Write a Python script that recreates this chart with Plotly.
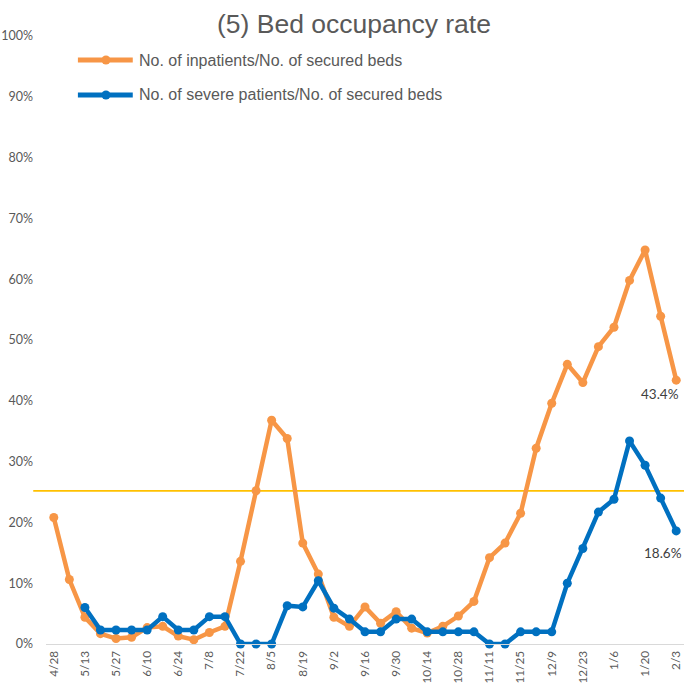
import plotly.graph_objects as go

# Weekly reporting dates
dates = [
    "4/28", "5/5", "5/13", "5/20", "5/27", "6/3", "6/10", "6/17", "6/24", "7/1",
    "7/8", "7/15", "7/22", "7/29", "8/5", "8/12", "8/19", "8/26", "9/2", "9/9",
    "9/16", "9/23", "9/30", "10/7", "10/14", "10/21", "10/28", "11/4", "11/11", "11/18",
    "11/25", "12/2", "12/9", "12/16", "12/23", "12/30", "1/6", "1/13", "1/20", "1/27",
    "2/3",
]

# Occupancy rates (%)
inpatients = [
    20.8, 10.6, 4.4, 1.7, 0.9, 1.1, 2.7, 2.9, 1.3, 0.7,
    1.9, 2.9, 13.6, 25.2, 36.8, 33.8, 16.6, 11.5, 4.4, 2.9,
    6.1, 3.4, 5.3, 2.6, 1.8, 2.9, 4.6, 7.0, 14.2, 16.6,
    21.5, 32.2, 39.6, 46.0, 43.0, 48.9, 52.1, 59.8, 64.8, 53.9,
    43.4,
]
severe = [
    None, None, 6.0, 2.3, 2.3, 2.3, 2.3, 4.5, 2.3, 2.3,
    4.5, 4.5, 0.0, 0.0, 0.0, 6.3, 6.1, 10.4, 5.9, 4.1,
    2.0, 2.0, 4.1, 4.1, 2.0, 2.0, 2.0, 2.0, 0.0, 0.0,
    2.0, 2.0, 2.0, 10.0, 15.7, 21.7, 23.8, 33.4, 29.4, 24.0,
    18.6,
]

series_names = [
    "No. of inpatients/No. of secured beds",
    "No. of severe patients/No. of secured beds",
]
threshold = 25.2
yticks = [0, 10, 20, 30, 40, 50, 60, 70, 80, 90, 100]

ORANGE = "#F79646"
BLUE = "#0070C0"
GOLD = "#FFC000"
TEXT = "#595959"

to_frac = lambda vals: [None if v is None else v / 100 for v in vals]

fig = go.Figure()
for vals, color, name in [(inpatients, ORANGE, series_names[0]), (severe, BLUE, series_names[1])]:
    fig.add_trace(go.Scatter(
        x=dates, y=to_frac(vals), mode="lines+markers", name=name,
        line=dict(color=color, width=4.5),
        marker=dict(color=color, size=9),
        showlegend=False, cliponaxis=False,
    ))

# Reference level line
fig.add_shape(type="line", xref="paper", yref="y",
              x0=-0.02, x1=1.0, y0=threshold / 100, y1=threshold / 100,
              line=dict(color=GOLD, width=1.8), layer="below")

# Latest-value labels
for vals, xshift, yshift in [(inpatients, -16, -14), (severe, -13, -22)]:
    fig.add_annotation(x=dates[-1], y=vals[-1] / 100, text=f"{vals[-1]:.1f}%",
                       showarrow=False, xanchor="center", yanchor="middle",
                       xshift=xshift, yshift=yshift,
                       font=dict(family="Lato, Liberation Sans", size=13.5, color="#404040"))

# Legend drawn as line + dot + text
legend_rows = [(0.9605, ORANGE, series_names[0]), (0.903, BLUE, series_names[1])]
for ypos, color, name in legend_rows:
    fig.add_shape(type="line", xref="paper", yref="paper",
                  x0=0.050, x1=0.136, y0=ypos, y1=ypos,
                  line=dict(color=color, width=5))
    fig.add_shape(type="circle", xref="paper", yref="paper",
                  xsizemode="pixel", ysizemode="pixel",
                  xanchor=0.094, yanchor=ypos,
                  x0=-4.5, x1=4.5, y0=-4.5, y1=4.5,
                  fillcolor=color, line=dict(color=color, width=0))
    fig.add_annotation(xref="paper", yref="paper", x=0.143, y=ypos, text=name,
                       showarrow=False, xanchor="left", yanchor="middle",
                       font=dict(family="Liberation Sans", size=16, color=TEXT))

fig.update_layout(
    width=688, height=684,
    margin=dict(l=46, r=4, t=36, b=40, autoexpand=False),
    paper_bgcolor="white", plot_bgcolor="white",
    title=dict(text="(5) Bed occupancy rate", x=0.5145, xref="container", xanchor="center",
               y=1 - 24 / 684, yref="container", yanchor="middle",
               font=dict(family="Liberation Sans", size=26.5, color=TEXT)),
    xaxis=dict(
        type="category", range=[-0.5, len(dates) - 0.5],
        tickmode="array", tickvals=dates[::2], ticktext=dates[::2],
        tickangle=-90, showgrid=False, zeroline=False,
        showline=True, linecolor="#D9D9D9", linewidth=1.3,
        ticks="", ticklabelstandoff=1, automargin=False,
        tickfont=dict(family="Lato, Liberation Sans", size=11.8, color=TEXT),
    ),
    yaxis=dict(
        range=[0, 1], tickmode="array", tickvals=[v / 100 for v in yticks],
        ticktext=[f"{v}%" for v in yticks],
        showgrid=False, zeroline=False, showline=False, ticks="",
        ticklabelstandoff=12, automargin=False,
        tickfont=dict(family="Lato, Liberation Sans", size=12.5, color=TEXT),
    ),
)

fig.write_html("out.html")
